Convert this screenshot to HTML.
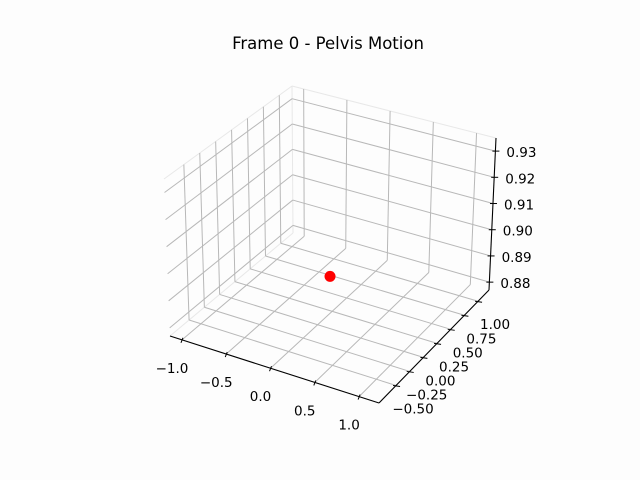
<!DOCTYPE html>
<html><head><meta charset="utf-8"><style>
html,body{margin:0;padding:0;background:#fdfdfd;}
svg{display:block;font-family:"DejaVu Sans","Liberation Sans",sans-serif;}
</style></head><body>
<svg id="chart" width="640" height="480" viewBox="0 0 640 480">
<rect width="640" height="480" fill="#fdfdfd"/>
<text x="328" y="49" font-size="16.5" text-anchor="middle" fill="#000">Frame 0 - Pelvis Motion</text>
<g id="grid"></g>
<g id="axes"></g>
<g id="marks"></g>
</svg>
<script>
const xTicks = [-1.0, -0.5, 0.0, 0.5, 1.0];
const xTickLabels = ["\u22121.0", "\u22120.5", "0.0", "0.5", "1.0"];
const yTicks = [-0.5, -0.25, 0.0, 0.25, 0.5, 0.75, 1.0];
const yTickLabels = ["\u22120.50", "\u22120.25", "0.00", "0.25", "0.50", "0.75", "1.00"];
const zTicks = [0.88, 0.89, 0.90, 0.91, 0.92, 0.93];
const zTickLabels = ["0.88", "0.89", "0.90", "0.91", "0.92", "0.93"];
const pointX = [0.23];
const pointY = [-0.14];
const pointZ = [0.90];

const XL=[-1.135,1.225], YL=[-0.812,1.2], ZL=[0.877,0.935];
const K={
 "000":[170,336],"100":[379,403],"110":[489,290],"010":[293,233],
 "001":[164,179],"101":[384,241],"111":[496,138],"011":[292,86]};
function lerp(a,b,t){return [a[0]+(b[0]-a[0])*t,a[1]+(b[1]-a[1])*t];}
function proj(x,y,z){
 const u=(x-XL[0])/(XL[1]-XL[0]), v=(y-YL[0])/(YL[1]-YL[0]), w=(z-ZL[0])/(ZL[1]-ZL[0]);
 const b=lerp(lerp(K["000"],K["100"],u),lerp(K["010"],K["110"],u),v);
 const t=lerp(lerp(K["001"],K["101"],u),lerp(K["011"],K["111"],u),v);
 return lerp(b,t,w);
}
const NS="http://www.w3.org/2000/svg";
function line(g,p,q,color,wd){
 const l=document.createElementNS(NS,"line");
 l.setAttribute("x1",p[0]);l.setAttribute("y1",p[1]);l.setAttribute("x2",q[0]);l.setAttribute("y2",q[1]);
 l.setAttribute("stroke",color);l.setAttribute("stroke-width",wd);
 g.appendChild(l);return l;
}
function text(g,x,y,s,anchor){
 const t=document.createElementNS(NS,"text");
 t.setAttribute("x",x);t.setAttribute("y",y);t.setAttribute("font-size","13.5");
 t.setAttribute("text-anchor",anchor);t.setAttribute("fill","#000");
 t.textContent=s;g.appendChild(t);return t;
}
const G=document.getElementById("grid"),A=document.getElementById("axes"),M=document.getElementById("marks");
const GC="#b8b8b8";
const pe="#e8e8e8";
[[["010"],["011"]],[["011"],["111"]],[["000"],["010"]],[["001"],["011"]]].forEach(e=>{
 const l=line(G,K[e[0]],K[e[1]],pe,1);
 
 
});
xTicks.forEach(x=>{
 let l=line(G,proj(x,YL[0],ZL[0]),proj(x,YL[1],ZL[0]),GC,1);
 
 
 l=line(G,proj(x,YL[1],ZL[0]),proj(x,YL[1],ZL[1]),GC,1);
 
 
});
yTicks.forEach(y=>{
 let l=line(G,proj(XL[0],y,ZL[0]),proj(XL[1],y,ZL[0]),GC,1);
 
 
 l=line(G,proj(XL[0],y,ZL[0]),proj(XL[0],y,ZL[1]),GC,1);
 
 
});
zTicks.forEach(z=>{
 let l=line(G,proj(XL[0],YL[0],z),proj(XL[0],YL[1],z),GC,1);
 
 
 l=line(G,proj(XL[0],YL[1],z),proj(XL[1],YL[1],z),GC,1);
 
 
});
let ax=line(A,K["000"],K["100"],"#000",1.1);


ax=line(A,K["100"],K["110"],"#000",1.1);


ax=line(A,K["110"],K["111"],"#000",1.1);


xTicks.forEach((x,i)=>{
 const p=proj(x,YL[0],ZL[0]);
 const l=line(A,[p[0]+1,p[1]-2],[p[0]-1,p[1]+3],"#000",1);
 
 
 const t=text(A,p[0]-10,p[1]+33,xTickLabels[i],"middle");
 
 
});
yTicks.forEach((y,i)=>{
 const p=proj(XL[1],y,ZL[0]);
 const l=line(A,[p[0]-3,p[1]],[p[0]+4,p[1]+1],"#000",1);
 
 
 const t=text(A,p[0]+17,p[1]+28,yTickLabels[i],"middle");
 
 
});
zTicks.forEach((z,i)=>{
 const p=proj(XL[1],YL[1],z);
 const l=line(A,[p[0]-3,p[1]],[p[0]+4,p[1]],"#000",1);
 
 
 const t=text(A,p[0]+11,p[1]+6,zTickLabels[i],"start");
 
 
});
pointX.forEach((x,i)=>{
 const p=proj(x,pointY[i],pointZ[i]);
 const c=document.createElementNS(NS,"circle");
 c.setAttribute("cx",p[0]);c.setAttribute("cy",p[1]);c.setAttribute("r",5.5);c.setAttribute("fill","#ff0000");
 
 
 M.appendChild(c);
});
</script>
</body></html>
